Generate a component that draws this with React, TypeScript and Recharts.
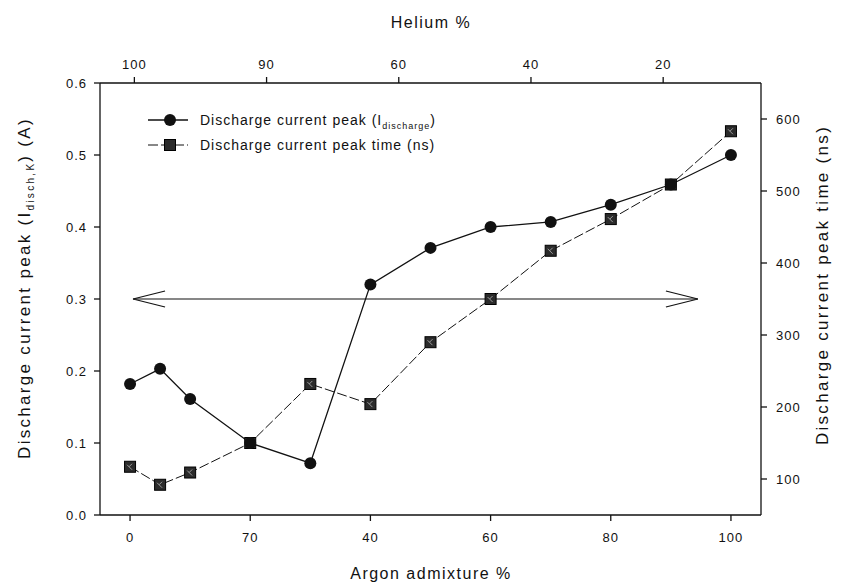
import React from 'react';
import { LineChart, Line, XAxis, YAxis, ReferenceLine, Label } from 'recharts';

// values
const argonPct = [0, 5, 10, 20, 30, 40, 50, 60, 70, 80, 90, 100];
const currentPeak = [0.182, 0.203, 0.161, 0.1, 0.072, 0.32, 0.371, 0.4, 0.407, 0.431, 0.459, 0.5];
const peakTime = [117, 92, 109, 150, 232, 204, 290, 350, 417, 461, 509, 583];

const argonTicks = [0, 20, 40, 60, 80, 100];
const argonTickLabels = ['0', '70', '40', '60', '80', '100'];
const heliumTicks = [100, 80, 60, 40, 20];
const heliumTickLabels = ['100', '90', '60', '40', '20'];
const currentTicks = [0, 0.1, 0.2, 0.3, 0.4, 0.5, 0.6];
const timeTicks = [100, 200, 300, 400, 500, 600];

// double arrow drawn across the plot at 0.3 A
const arrowFrom = { x: 0.5, y: 0.3 };
const arrowTo = { x: 94.5, y: 0.3 };

const data = argonPct.map((a, i) => ({
    argon: a,
    helium: 100 - a,
    current: currentPeak[i],
    time: peakTime[i],
}));

const INK = '#111';
const FONT = '"Liberation Sans", Arial, sans-serif';
const tickStyle = { fill: INK, fontSize: 13, fontFamily: FONT, letterSpacing: 1 };

const CircleDot = (props: any) => {
    const { cx, cy, index } = props;
    if (cx == null || cy == null) return <g key={`c-${index}`} />;
    return <circle key={`c-${index}`} cx={cx} cy={cy} r={6} fill={INK} />;
};

const SquareDot = (props: any) => {
    const { cx, cy, index } = props;
    if (cx == null || cy == null) return <g key={`s-${index}`} />;
    return (
        <g key={`s-${index}`}>
            <rect x={cx - 5.5} y={cy - 5.5} width={11} height={11} fill="#2b2b2b" stroke="#000" strokeWidth={1} />
            <path d={`M${cx - 3},${cy - 2} L${cx + 2},${cy + 3} M${cx + 2},${cy - 3} L${cx - 1},${cy}`} stroke="#9a9a9a" strokeWidth={1} />
        </g>
    );
};

const DoubleArrow = (props: any) => {
    const { x1, y1, x2, y2 } = props;
    if ([x1, y1, x2, y2].some((v) => v == null || Number.isNaN(v))) return <g />;
    return (
        <g stroke={INK} strokeWidth={1.2} fill="none">
            <line x1={x1} y1={y1} x2={x2} y2={y2} />
            <polyline points={`${x1 + 32},${y1 - 8} ${x1},${y1} ${x1 + 32},${y1 + 8}`} />
            <polyline points={`${x2 - 32},${y2 - 8} ${x2},${y2} ${x2 - 32},${y2 + 8}`} />
        </g>
    );
};

const LeftTitle = () => (
    <text transform="translate(30, 288) rotate(-90)" textAnchor="middle" fontSize={17} letterSpacing={2.3} fill={INK} fontFamily={FONT}>
        Discharge current peak (I<tspan fontSize={10} dy={4}>disch,K</tspan><tspan dy={-4}>) (A)</tspan>
    </text>
);

const RightTitle = () => (
    <text transform="translate(828, 285) rotate(-90)" textAnchor="middle" fontSize={17} letterSpacing={2.3} fill={INK} fontFamily={FONT}>
        Discharge current peak time (ns)
    </text>
);

const BottomTitle = () => (
    <text x={431} y={579} textAnchor="middle" fontSize={16} letterSpacing={1.5} fill={INK} fontFamily={FONT}>
        Argon admixture %
    </text>
);

const TopTitle = () => (
    <text x={431} y={28} textAnchor="middle" fontSize={16} letterSpacing={1.5} fill={INK} fontFamily={FONT}>
        Helium %
    </text>
);

const LegendBox = () => (
    <svg width={420} height={50} style={{ position: 'absolute', left: 140, top: 108, overflow: 'visible' }}>
        <g fontFamily={FONT} fontSize={14} fill={INK} letterSpacing={1}>
            <line x1={8} y1={12} x2={48} y2={12} stroke={INK} strokeWidth={1.3} />
            <circle cx={30} cy={12} r={6} fill={INK} />
            <text x={60} y={17}>
                Discharge current peak (I<tspan fontSize={9} dy={4}>discharge</tspan><tspan dy={-4}>)</tspan>
            </text>
            <line x1={8} y1={37} x2={48} y2={37} stroke={INK} strokeWidth={1} strokeDasharray="10 3" />
            <rect x={24.5} y={31.5} width={11} height={11} fill="#2b2b2b" stroke="#000" />
            <text x={60} y={42}>Discharge current peak time (ns)</text>
        </g>
    </svg>
);

export default function App() {
    return (
        <div style={{ position: 'absolute', left: 0, top: 0, width: 845, height: 587, background: '#fff', fontFamily: FONT }}>
            <LineChart width={845} height={587} data={data} margin={{ top: 0, right: 0, bottom: 0, left: 0 }}>
                <XAxis
                    xAxisId="bottom"
                    orientation="bottom"
                    type="number"
                    dataKey="argon"
                    domain={[-5, 105]}
                    allowDataOverflow
                    ticks={argonTicks}
                    interval={0}
                    tickFormatter={(v: number) => argonTickLabels[argonTicks.indexOf(v)] ?? String(v)}
                    height={72}
                    tickSize={6}
                    tickMargin={12}
                    stroke={INK}
                    strokeWidth={1.3}
                    tick={tickStyle}
                >
                    <Label content={BottomTitle} />
                </XAxis>
                <XAxis
                    xAxisId="top"
                    orientation="top"
                    type="number"
                    dataKey="helium"
                    domain={[5.2, 105.2]}
                    allowDataOverflow
                    reversed
                    ticks={heliumTicks}
                    interval={0}
                    tickFormatter={(v: number) => heliumTickLabels[heliumTicks.indexOf(v)] ?? String(v)}
                    height={83}
                    tickSize={6}
                    tickMargin={8}
                    stroke={INK}
                    strokeWidth={1.3}
                    tick={tickStyle}
                >
                    <Label content={TopTitle} />
                </XAxis>
                <YAxis
                    yAxisId="left"
                    domain={[0, 0.6]}
                    ticks={currentTicks}
                    interval={0}
                    tickFormatter={(v: number) => v.toFixed(1)}
                    width={100}
                    tickSize={6}
                    tickMargin={7}
                    stroke={INK}
                    strokeWidth={1.3}
                    tick={tickStyle}
                >
                    <Label content={LeftTitle} />
                </YAxis>
                <YAxis
                    yAxisId="right"
                    orientation="right"
                    domain={[50, 650]}
                    ticks={timeTicks}
                    interval={0}
                    width={84}
                    tickSize={6}
                    tickMargin={9}
                    stroke={INK}
                    strokeWidth={1.3}
                    tick={tickStyle}
                >
                    <Label content={RightTitle} />
                </YAxis>
                <ReferenceLine
                    xAxisId="bottom"
                    yAxisId="left"
                    segment={[arrowFrom, arrowTo]}
                    shape={DoubleArrow}
                />
                <Line
                    xAxisId="bottom"
                    yAxisId="right"
                    dataKey="time"
                    stroke={INK}
                    strokeWidth={1}
                    strokeDasharray="10 3"
                    dot={SquareDot}
                    activeDot={false}
                    isAnimationActive={false}
                />
                <Line
                    xAxisId="bottom"
                    yAxisId="left"
                    dataKey="current"
                    stroke={INK}
                    strokeWidth={1.3}
                    dot={CircleDot}
                    activeDot={false}
                    isAnimationActive={false}
                />
            </LineChart>
            <LegendBox />
        </div>
    );
}
